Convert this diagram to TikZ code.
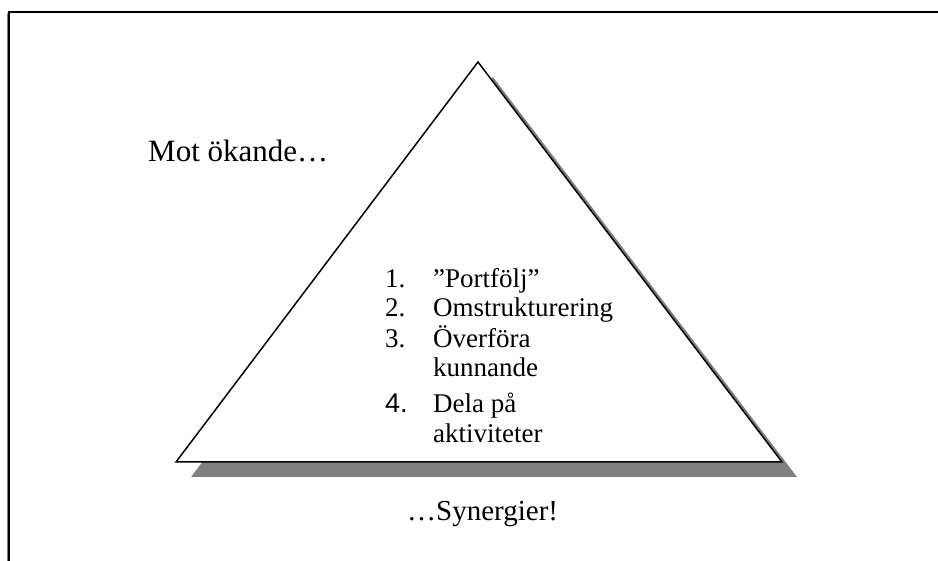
\documentclass[tikz,border=0pt]{standalone}
\usepackage{fontspec}
\setmainfont{Liberation Serif}
\newfontfamily\arialf{Liberation Sans}
\begin{document}
\begin{tikzpicture}[x=1pt,y=-1pt,
  frameline/.style={line width=2pt,black},
  tri/.style={line width=1.5pt,black,fill=white,line join=miter},
  big/.style={font=\fontsize{29}{34}\selectfont,inner sep=0pt,anchor=base west},
  item/.style={font=\fontsize{27}{32}\selectfont,inner sep=0pt,anchor=base west}]
\useasboundingbox (0,0) rectangle (938,561);
% frame
\coordinate (ftl) at (9,12);
\coordinate (ftr) at (938,12);
\coordinate (fbl) at (9,561);
\draw[gray,line width=1pt] (7.5,13) -- (7.5,561);
\draw[frameline] (fbl) -- (ftl) -- (ftr);
% triangle with shadow
\coordinate (A) at (478,62);
\coordinate (B) at (176,462);
\coordinate (C) at (782,462);
\fill[fill={rgb,255:red,128;green,128;blue,128}] ([shift={(15,15)}]A) -- ([shift={(15,15)}]B) -- ([shift={(15,15)}]C) -- cycle;
\draw[tri] (A) -- (B) -- (C) -- cycle;
% texts
\node[big,font=\fontsize{31}{36}\selectfont] (top) at (148,162) {Mot ökande…};
\node[big] (bot) at (407,520) {…Synergier!};
\node[item] (n1) at (385,288) {1.};
\node[item] (t1) at (433,288) {”Portfölj”};
\node[item] (n2) at (385,317) {2.};
\node[item] (t2) at (433,317) {Omstrukturering};
\node[item] (n3) at (385,348) {3.};
\node[item] (t3) at (433,348) {Överföra};
\node[item] (t3b) at (433,377) {kunnande};
\node[item,font=\arialf\fontsize{27}{32}\selectfont] (n4) at (385,413) {4.};
\node[item] (t4) at (433,413) {Dela på};
\node[item] (t4b) at (433,443) {aktiviteter};
\end{tikzpicture}
\end{document}
